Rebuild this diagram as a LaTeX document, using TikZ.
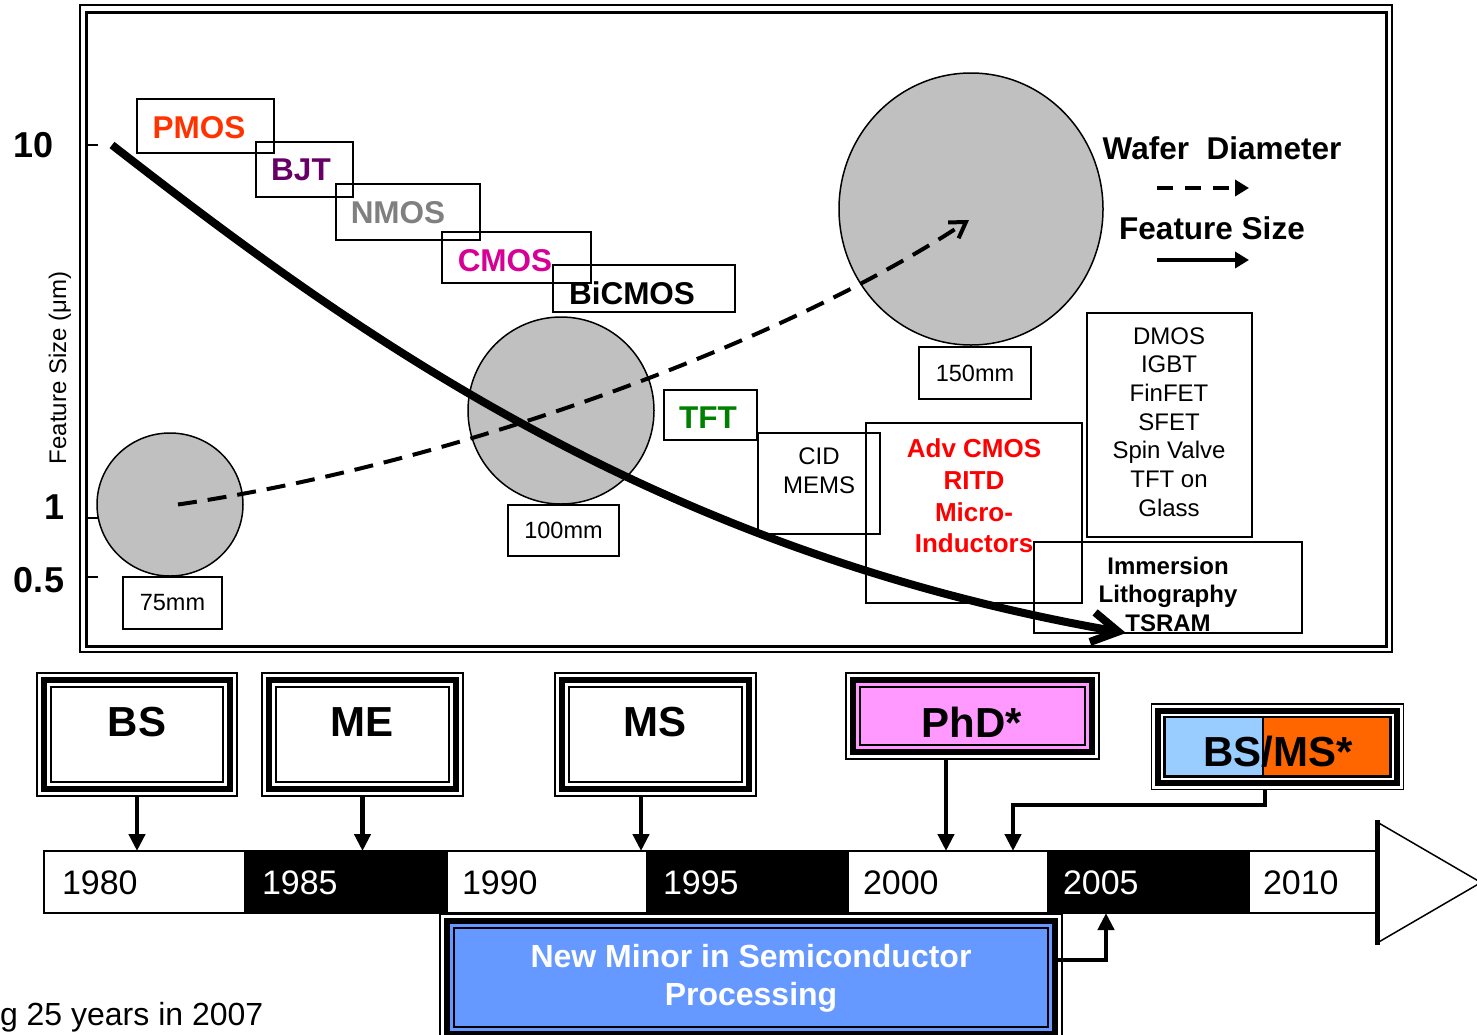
\documentclass[tikz,border=0pt]{standalone}
\usepackage{fontspec}
\setmainfont{Liberation Sans}
\usetikzlibrary{arrows.meta,shapes.geometric}
\definecolor{pmosc}{RGB}{255,51,0}
\definecolor{bjtc}{RGB}{102,0,102}
\definecolor{nmosc}{RGB}{128,128,128}
\definecolor{cmosc}{RGB}{214,0,150}
\definecolor{tftc}{RGB}{0,128,0}
\definecolor{advc}{RGB}{255,0,0}
\definecolor{waferc}{RGB}{192,192,192}
\definecolor{phdc}{RGB}{255,153,255}
\definecolor{bsc}{RGB}{153,204,255}
\definecolor{msc}{RGB}{255,102,0}
\definecolor{minorc}{RGB}{102,153,255}
\newcommand\fsz[2]{\fontsize{#1}{#2}\selectfont}
\begin{document}
\begin{tikzpicture}[x=1pt,y=-1pt,line join=miter,
 every node/.style={inner sep=0pt,outer sep=0pt},
 tbox/.style={draw,line width=1.8pt,rectangle},
 wafer/.style={draw,line width=1.5pt,fill=waferc,ellipse},
 tech/.style={font=\bfseries\fsz{31.5}{36}},
 small/.style={font=\fsz{24}{28.7},align=center},
 sizebox/.style={tbox,font=\fsz{23.5}{28}},
 axisnum/.style={font=\bfseries\fsz{36}{40}},
 degout/.style={draw,line width=1.5pt,rectangle},
 degtext/.style={font=\bfseries\fsz{42}{48}},
 year/.style={font=\fsz{34}{40},anchor=west},
 wseg/.style={draw,line width=1.5pt,fill=white,rectangle,minimum height=62pt},
 bseg/.style={draw,line width=1.5pt,fill=black,rectangle,minimum height=62pt},
 arr/.style={line width=4.5pt,-{Triangle[length=17pt,width=16pt]}},
 legarr/.style={line width=4pt,-{Triangle[length=14pt,width=16pt]}},
]
\useasboundingbox (0,0) rectangle (1477,1034);
\fill[white] (0,0) rectangle (1477,1034);

% chart frame
\draw[line width=1.5pt] (80,5) rectangle (1392,652);
\draw[line width=3pt] (86.5,12) rectangle (1386.5,646.5);

% axis
\draw[line width=1.5pt] (86,145) -- (98,145);
\draw[line width=1.5pt] (86,518) -- (98,518);
\draw[line width=1.5pt] (86,577) -- (98,577);
\node[axisnum] (y10) at (34,145) {10};
\node[axisnum] (y1) at (55,507) {1};
\node[axisnum] (y05) at (39,580) {0.5};
\node[rotate=90,font=\fsz{24}{28}] (ylab) at (60,368) {Feature Size (μm)};

% wafers
\node[wafer,minimum width=146pt,minimum height=143pt] (w75) at (170,504.5) {};
\node[wafer,minimum width=186pt,minimum height=187pt] (w100) at (561,410.5) {};
\node[wafer,minimum width=264pt,minimum height=272pt] (w150) at (971,209) {};
\node[sizebox,minimum width=99pt,minimum height=52pt] (l75) at (172.5,603) {75mm};
\node[sizebox,minimum width=111pt,minimum height=51pt] (l100) at (563.5,530.5) {100mm};
\node[sizebox,minimum width=112pt,minimum height=52pt] (l150) at (975,373) {150mm};

% technology boxes
\node[tbox,minimum width=137pt,minimum height=54pt] (bpmos) at (205.5,126) {};
\node[tbox,minimum width=97pt,minimum height=55pt] (bbjt) at (304.5,169.5) {};
\node[tbox,minimum width=144pt,minimum height=56pt] (bnmos) at (408,212) {};
\node[tbox,minimum width=149pt,minimum height=51pt] (bcmos) at (516.5,257.5) {};
\node[tbox,minimum width=182pt,minimum height=47pt] (bbic) at (644,288.5) {};
\node[tbox,minimum width=93pt,minimum height=50pt] (btft) at (710.5,415) {};
\node[tbox,minimum width=122pt,minimum height=101pt] (bcid) at (819,483.5) {};
\node[tbox,minimum width=216pt,minimum height=180pt] (badv) at (974,513) {};
\node[tbox,minimum width=165pt,minimum height=224pt] (bdmos) at (1169.5,425) {};
\node[tbox,minimum width=268pt,minimum height=91pt] (bimm) at (1168,587.5) {};

% curves
\draw[line width=4pt,dash pattern=on 19pt off 11pt,-{Straight Barb[length=15pt,width=19pt]}]
  (w75.center) ++(8,0) .. controls (450,465) and (780,345) .. (969,220);
\draw[line width=8pt,-{Straight Barb[length=26pt,width=30pt]}]
  (112,145) .. controls (350,330) and (650,550) .. (1126,633);

% technology labels
\node[tech,text=pmosc] (tpmos) at (199,128) {PMOS};
\node[tech,text=bjtc] (tbjt) at (301,170) {BJT};
\node[tech,text=nmosc] (tnmos) at (398,213) {NMOS};
\node[tech,text=cmosc] (tcmos) at (505,261) {CMOS};
\node[tech] (tbic) at (632,293) {BiCMOS};
\node[tech,text=tftc] (ttft) at (708,418) {TFT};
\node[small] (tcid) at (819,471) {CID\\MEMS};
\node[font=\bfseries\fsz{26}{31.7},align=center,text=advc] (tadv) at (974,496) {Adv CMOS\\RITD\\Micro-\\Inductors};
\node[small] (tdmos) at (1169,422) {DMOS\\IGBT\\FinFET\\SFET\\Spin Valve\\TFT on\\Glass};
\node[font=\bfseries\fsz{24}{28.5},align=center] (timm) at (1168,594) {Immersion\\Lithography\\TSRAM};

% legend
\node[font=\bfseries\fsz{31.5}{36}] (lwafer) at (1222,148) {Wafer\ \ Diameter};
\node[font=\bfseries\fsz{31.5}{36}] (lfeat) at (1212,228) {Feature Size};
\coordinate (dA) at (1157,188);
\coordinate (dB) at (1249,188);
\coordinate (sA) at (1157,260);
\coordinate (sB) at (1249,260);
\draw[legarr,dash pattern=on 16pt off 12pt] (dA) -- (dB);
\draw[legarr] (sA) -- (sB);

% timeline
\node[wseg,minimum width=201pt] (s1980) at (144.5,882) {};
\node[bseg,minimum width=202pt] (s1985) at (346,882) {};
\node[wseg,minimum width=200pt] (s1990) at (547,882) {};
\node[bseg,minimum width=201pt] (s1995) at (747.5,882) {};
\node[wseg,minimum width=200pt] (s2000) at (948,882) {};
\node[bseg,minimum width=201pt] (s2005) at (1148.5,882) {};
\node[wseg,minimum width=128pt] (s2010) at (1313,882) {};
\node[year] (y1980) at (62,883) {1980};
\node[year,text=white] (y1985) at (262,883) {1985};
\node[year] (y1990) at (462,883) {1990};
\node[year,text=white] (y1995) at (663,883) {1995};
\node[year] (y2000) at (863,883) {2000};
\node[year,text=white] (y2005) at (1063,883) {2005};
\node[year] (y2010) at (1263,883) {2010};
\coordinate (tA) at (1377,822);
\coordinate (tB) at (1481,882.5);
\coordinate (tC) at (1377,943);
\draw[line width=1.5pt,fill=white] (tA) -- (tB) -- (tC);
\draw[line width=5pt] ([shift={(0,-2)}]tA) -- ([shift={(0,2)}]tC);

% degree boxes
\node[degout,minimum width=200pt,minimum height=123pt] (bs) at (137,734.5) {};
\draw[line width=6pt,fill=white] ([shift={(7,7)}]bs.north west) rectangle ([shift={(-7,-7)}]bs.south east);
\draw[line width=2.5pt] ([shift={(14,14)}]bs.north west) rectangle ([shift={(-14,-14)}]bs.south east);
\node[degtext] (bst) at (137,722) {BS};

\node[degout,minimum width=201pt,minimum height=123pt] (me) at (362.5,734.5) {};
\draw[line width=6pt,fill=white] ([shift={(7,7)}]me.north west) rectangle ([shift={(-7,-7)}]me.south east);
\draw[line width=2.5pt] ([shift={(14,14)}]me.north west) rectangle ([shift={(-14,-14)}]me.south east);
\node[degtext] (met) at (362,722) {ME};

\node[degout,minimum width=201pt,minimum height=123pt] (ms) at (655.5,734.5) {};
\draw[line width=6pt,fill=white] ([shift={(7,7)}]ms.north west) rectangle ([shift={(-7,-7)}]ms.south east);
\draw[line width=2.5pt] ([shift={(14,14)}]ms.north west) rectangle ([shift={(-14,-14)}]ms.south east);
\node[degtext] (mst) at (655,722) {MS};

\node[degout,minimum width=253pt,minimum height=86pt] (phd) at (972.5,716) {};
\draw[line width=6pt,fill=phdc] ([shift={(7,7)}]phd.north west) rectangle ([shift={(-7,-7)}]phd.south east);
\draw[line width=2.5pt] ([shift={(14,14)}]phd.north west) rectangle ([shift={(-14,-14)}]phd.south east);
\node[degtext] (phdt) at (972,722) {PhD*};

\node[degout,minimum width=252pt,minimum height=85.5pt] (bsms) at (1277.5,746.75) {};
\draw[line width=6pt,fill=white] ([shift={(6.5,6.5)}]bsms.north west) rectangle ([shift={(-6.5,-6.5)}]bsms.south east);
\fill[bsc] ([shift={(13,13)}]bsms.north west) rectangle (1263,776.5);
\fill[msc] (1263,717.5) rectangle ([shift={(-13,-13)}]bsms.south east);
\draw[line width=1.2pt] (1263,717.5) -- (1263,776.5);
\draw[line width=2.5pt] ([shift={(13,13)}]bsms.north west) rectangle ([shift={(-13,-13)}]bsms.south east);
\node[degtext] (bsmst) at (1278,752) {BS/MS*};

\node[degout,minimum width=622pt,minimum height=127pt] (minor) at (751,977.5) {};
\draw[line width=6pt,fill=minorc] ([shift={(7,7)}]minor.north west) rectangle ([shift={(-7,-7)}]minor.south east);
\draw[line width=2.5pt] ([shift={(14,14)}]minor.north west) rectangle ([shift={(-14,-14)}]minor.south east);
\node[font=\bfseries\fsz{32}{38},align=center,text=white] (minort) at (751,978) {New Minor in Semiconductor\\Processing};

% degree arrows
\draw[arr] (bs.south) -- (bs.south |- s1980.north);
\draw[arr] (me.south) -- (me.south |- s1985.north);
\draw[arr] ([xshift=-14.5pt]ms.south) -- ([xshift=-14.5pt]ms.south |- s1990.north);
\draw[arr] ([xshift=-26.5pt]phd.south) -- ([xshift=-26.5pt]phd.south |- s2000.north);
\coordinate (bend) at (1013,805);
\draw[arr] ([xshift=-12.5pt]bsms.south) |- (bend) -- (bend |- s2000.north);
\coordinate (mbend) at (1106,960);
\draw[arr] ([shift={(-5,-17.5)}]minor.east) -- (mbend) -- (mbend |- s2005.south);

% footer
\node[anchor=base west,font=\fsz{32}{38}] (foot) at (0,1025) {g 25 years in 2007};
\end{tikzpicture}
\end{document}
